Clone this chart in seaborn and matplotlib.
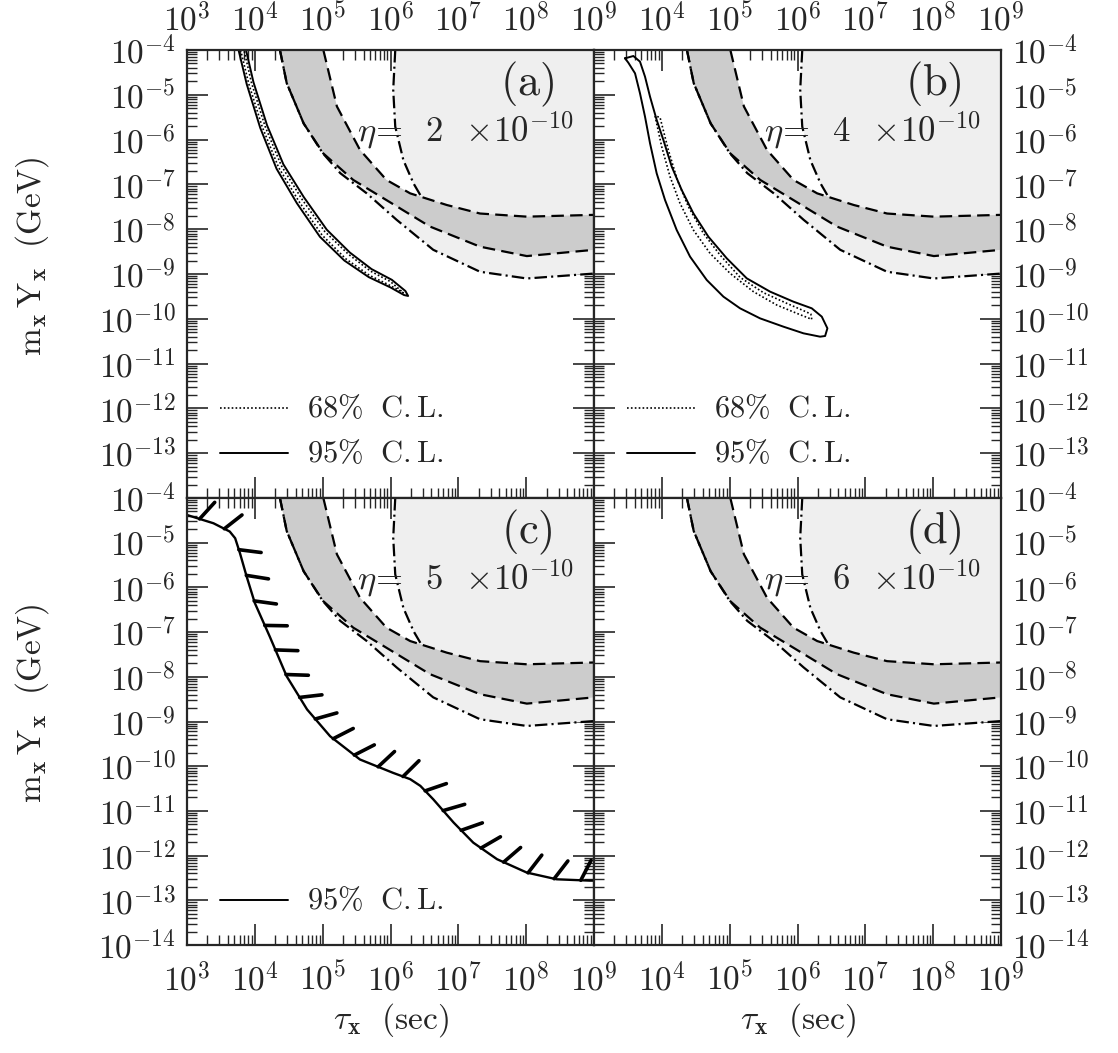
import numpy as np
import matplotlib
matplotlib.use("Agg")
import matplotlib.pyplot as plt
import matplotlib.patheffects as pe
from matplotlib.ticker import FixedLocator, FixedFormatter, LogLocator, NullFormatter
import seaborn as sns

# ---------------- data (log10 values) ----------------
panel_ids = ["a", "b", "c", "d"]
eta_values = ["2", "4", "5", "6"]

x_major_exp = [3, 4, 5, 6, 7, 8, 9]
y_major_exp = [-14, -13, -12, -11, -10, -9, -8, -7, -6, -5, -4]
xlabels_left = [r"$10^{%d}$" % e for e in x_major_exp]
xlabels_right = [""] + [r"$10^{%d}$" % e for e in x_major_exp[1:]]
ylabels_bottom = [r"$10^{%d}$" % e for e in y_major_exp]
ylabels_top = [""] + [r"$10^{%d}$" % e for e in y_major_exp[1:]]

# dark band: upper dashed edge
band_up_lx = [5.01, 5.21, 5.55, 5.94, 6.29, 6.83, 7.32, 8.01, 9.0]
band_up_ly = [-4.0, -5.26, -6.23, -6.90, -7.20, -7.46, -7.65, -7.72, -7.68]
# dark band: lower dashed edge
band_lo_lx = [4.37, 4.47, 4.72, 5.01, 5.45, 5.94, 6.58, 7.32, 8.01, 9.0]
band_lo_ly = [-4.0, -4.74, -5.64, -6.31, -6.90, -7.35, -7.94, -8.39, -8.60, -8.46]
# light region: lower dash-dot edge
outer_lx = [4.37, 4.47, 4.72, 5.0, 5.26, 5.65, 6.09, 6.63, 7.32, 8.01, 9.0]
outer_ly = [-4.0, -4.74, -5.64, -6.30, -6.75, -7.20, -7.79, -8.46, -8.95, -9.10, -8.99]
# light region: steep dash-dot edge
vert_lx = [6.07, 6.04, 6.07, 6.19, 6.34, 6.44]
vert_ly = [-4.0, -4.89, -5.71, -6.46, -6.98, -7.24]

# panel (a): 95% (solid) and 68% (dotted) closed contours
a95_lx = [3.76, 3.88, 4.08, 4.32, 4.62, 4.96, 5.32, 5.68, 6.00, 6.20, 6.26,
          6.22, 6.02, 5.72, 5.40, 5.06, 4.72, 4.42, 4.18, 3.98, 3.87]
a95_ly = [-4.0, -4.76, -5.74, -6.65, -7.42, -8.17, -8.70, -9.07, -9.30, -9.47, -9.49,
          -9.38, -9.13, -8.89, -8.52, -8.01, -7.28, -6.55, -5.68, -4.72, -4.0]
a68_lx = [3.79, 3.91, 4.11, 4.35, 4.65, 4.99, 5.34, 5.69, 6.00, 6.19,
          6.00, 5.71, 5.38, 5.03, 4.69, 4.39, 4.15, 3.95, 3.84]
a68_ly = [-4.0, -4.75, -5.72, -6.62, -7.38, -8.13, -8.66, -9.03, -9.26, -9.42,
          -9.17, -8.94, -8.56, -8.05, -7.32, -6.58, -5.70, -4.73, -4.0]

# panel (b): 95% (solid) and 68% (dotted) closed contours
b95_lx = [3.457, 3.580, 3.678, 3.752, 3.826, 3.924, 4.023, 4.146, 4.293, 4.465, 4.686,
          4.957, 5.252, 5.596, 5.940, 6.210, 6.358, 6.441, 6.407, 6.333, 6.088, 5.793,
          5.448, 5.153, 4.908, 4.662, 4.416, 4.219, 4.047, 3.924, 3.826, 3.752, 3.678,
          3.605, 3.506, 3.457]
b95_ly = [-4.186, -4.134, -4.260, -4.595, -5.042, -5.562, -6.009, -6.604, -7.125, -7.646,
          -8.167, -8.650, -9.097, -9.394, -9.618, -9.766, -9.952, -10.213, -10.384,
          -10.399, -10.324, -10.176, -9.990, -9.766, -9.506, -9.134, -8.613, -8.018,
          -7.348, -6.753, -6.083, -5.488, -4.967, -4.521, -4.283, -4.186]
b68_lx = [3.900, 3.998, 4.121, 4.268, 4.465, 4.711, 5.006, 5.350, 5.694, 5.989, 6.210,
          6.196, 6.088, 5.842, 5.498, 5.153, 4.858, 4.613, 4.391, 4.229, 4.096, 3.973, 3.900]
b68_ly = [-5.473, -6.158, -6.827, -7.423, -8.018, -8.539, -8.985, -9.394, -9.692, -9.878,
          -10.012, -9.893, -9.818, -9.655, -9.417, -9.074, -8.576, -8.092, -7.497, -6.902,
          -6.232, -5.503, -5.473]

# panel (c): 95% C.L. bound (hatched line)
c95_lx = [3.0, 3.39, 3.63, 3.71, 3.78, 3.88, 4.0, 4.22, 4.47, 4.77, 5.11, 5.55, 6.04,
          6.29, 6.44, 6.63, 6.93, 7.22, 7.57, 8.01, 8.45, 8.94, 9.0]
c95_ly = [-4.38, -4.565, -4.75, -4.90, -5.23, -5.76, -6.35, -7.10, -7.99, -8.73, -9.33,
          -9.85, -10.15, -10.29, -10.44, -10.74, -11.26, -11.71, -12.08, -12.38, -12.53,
          -12.56, -12.56]

legend_lx = [3.49, 4.49]
legend_text_lx = 4.77
legend_ly = {"68": -12.0, "95": -13.0}

# ---------------- style ----------------
sns.set_style("ticks")
plt.rcParams.update({
    "font.family": ["DejaVu Serif", "DejaVu Sans"],
    "mathtext.fontset": "cm",
    "lines.scale_dashes": False,
    "axes.linewidth": 1.6,
})

LIGHT = "#efefef"
DARK = "#cccccc"
DASH = (0, (9, 4.5))
DASHDOT = (0, (9, 3, 1.5, 3))
DOT = (0, (1.2, 1.6))

fig = plt.figure(figsize=(11.18, 10.53), dpi=100)
W, H = 1118.0, 1053.0


def box(x0, x1, y0, y1):
    return [x0 / W, 1 - y1 / H, (x1 - x0) / W, (y1 - y0) / H]


positions = [box(187, 594, 50, 498), box(594, 1001, 50, 498),
             box(187, 594, 498, 945), box(594, 1001, 498, 945)]


def p10(v):
    return np.power(10.0, np.asarray(v, dtype=float))


def curve(ax, lx, ly, **kw):
    sns.lineplot(x=p10(lx), y=p10(ly), sort=False, estimator=None, ax=ax,
                 legend=False, **kw)
    return ax.lines[-1]


for i, pos in enumerate(positions):
    ax = fig.add_axes(pos)
    ax.set_xscale("log")
    ax.set_yscale("log")

    # light grey region: above dash-dot, outside the white wedge
    up_lx = np.array(band_up_lx)
    up_ly = np.array(band_up_ly)
    keep = up_lx <= 6.3
    light_x = np.concatenate([outer_lx, [9.0], vert_lx, up_lx[keep][::-1]])
    light_y = np.concatenate([outer_ly, [-4.0], vert_ly, up_ly[keep][::-1]])
    ax.fill(p10(light_x), p10(light_y), color=LIGHT, lw=0, zorder=1)
    # dark band
    dark_x = np.concatenate([band_up_lx, band_lo_lx[::-1]])
    dark_y = np.concatenate([band_up_ly, band_lo_ly[::-1]])
    ax.fill(p10(dark_x), p10(dark_y), color=DARK, lw=0, zorder=1.5)

    curve(ax, band_up_lx, band_up_ly, color="black", lw=1.6, linestyle=DASH)
    curve(ax, band_lo_lx, band_lo_ly, color="black", lw=1.6, linestyle=DASH)
    curve(ax, outer_lx, outer_ly, color="black", lw=1.6, linestyle=DASHDOT)
    curve(ax, vert_lx, vert_ly, color="black", lw=1.6, linestyle=DASHDOT)

    if i == 0:
        curve(ax, a95_lx, a95_ly, color="black", lw=1.4)
        curve(ax, a68_lx, a68_ly, color="black", lw=1.2, linestyle=DOT)
    elif i == 1:
        curve(ax, b95_lx, b95_ly, color="black", lw=1.4)
        curve(ax, b68_lx, b68_ly, color="black", lw=1.2, linestyle=DOT)
    elif i == 2:
        ln = curve(ax, c95_lx, c95_ly, color="black", lw=1.7)
        ln.set_path_effects([pe.withTickedStroke(spacing=19, angle=65, length=0.85,
                                                 linewidth=2.6)])

    # legends
    if i in (0, 1):
        curve(ax, legend_lx, [legend_ly["68"]] * 2, color="black", lw=1.2, linestyle=DOT)
        ax.text(p10(legend_text_lx), p10(legend_ly["68"]), r"$\mathrm{68\%\ \ C.L.}$",
                ha="left", va="center", fontsize=22)
    if i in (0, 1, 2):
        curve(ax, legend_lx, [legend_ly["95"]] * 2, color="black", lw=1.4)
        ax.text(p10(legend_text_lx), p10(legend_ly["95"]), r"$\mathrm{95\%\ \ C.L.}$",
                ha="left", va="center", fontsize=22)

    ax.text(p10(8.01), p10(-4.76), r"$\mathrm{(%s)}$" % panel_ids[i],
            ha="center", va="center", fontsize=32, zorder=5)
    ax.text(p10(5.50), p10(-5.79),
            r"$\eta\!=\;\;\mathrm{%s}\;\;\times\!10^{-10}$" % eta_values[i],
            ha="left", va="center", fontsize=25, zorder=5)

    ax.set_xlim(1e3, 1e9)
    ax.set_ylim(1e-14, 1e-4)

    # ticks
    ax.xaxis.set_major_locator(FixedLocator(p10(x_major_exp)))
    ax.yaxis.set_major_locator(FixedLocator(p10(y_major_exp)))
    ax.xaxis.set_major_formatter(FixedFormatter(xlabels_left if i in (0, 2) else xlabels_right))
    ax.yaxis.set_major_formatter(FixedFormatter(ylabels_top if i in (0, 1) else ylabels_bottom))
    for axis in (ax.xaxis, ax.yaxis):
        axis.set_minor_locator(LogLocator(base=10, subs=np.arange(2, 10), numticks=200))
        axis.set_minor_formatter(NullFormatter())
    ax.tick_params(which="both", direction="in", top=True, bottom=True, left=True, right=True)
    ax.tick_params(which="major", length=15, width=1.2, labelsize=24)
    ax.tick_params(which="minor", length=7.5, width=1.0)
    ax.tick_params(axis="y", which="major", pad=8)
    ax.tick_params(axis="x", which="major", pad=(9 if i in (0, 1) else 13))
    ax.tick_params(axis="x", labeltop=(i in (0, 1)), labelbottom=(i in (2, 3)))
    ax.tick_params(axis="y", labelleft=(i in (0, 2)), labelright=(i in (1, 3)))
    for sp in ax.spines.values():
        sp.set_linewidth(1.6)
        sp.set_zorder(10)

    if i in (0, 2):
        ax.set_ylabel(r"$\mathrm{m}_{\mathbf{x}}\,\mathrm{Y}_{\mathbf{x}}\ \ \mathrm{(GeV)}$",
                      fontsize=24)
        ax.yaxis.set_label_coords(-0.335, 0.54)
    if i in (2, 3):
        ax.set_xlabel(r"$\tau_{\mathbf{x}}\ \ \mathrm{(sec)}$", fontsize=24)
        ax.xaxis.set_label_coords(0.5, -0.125)

fig.savefig("out.png", dpi=100)
